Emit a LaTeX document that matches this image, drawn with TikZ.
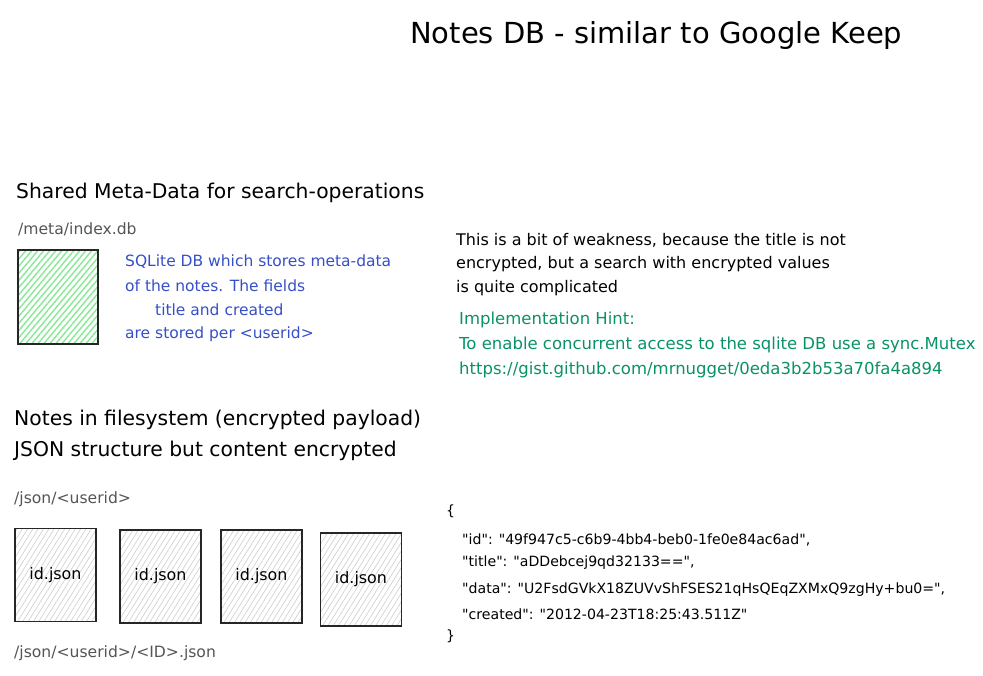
\documentclass[tikz,border=0pt]{standalone}
\usepackage{fontspec}
\setmainfont{DejaVu Sans}[Ligatures=TeXOff]
\usetikzlibrary{patterns.meta}
\definecolor{tblue}{HTML}{364FC7}
\definecolor{tgreen}{HTML}{099268}
\definecolor{hgreen}{HTML}{8CE99A}
\definecolor{tgray}{HTML}{555555}
\definecolor{hgray}{HTML}{CCCCCC}
\tikzset{
  txt/.style={anchor=west, inner sep=0pt, font=\fontsize{16}{18}\selectfont},
  head/.style={anchor=west, inner sep=0pt, font=\fontsize{20.3}{24}\selectfont},
  path/.style={txt, text=tgray, font=\fontsize{15.6}{18}\selectfont},
  jtxt/.style={txt, font=\fontsize{14.1}{16}\selectfont},
  filebox/.style={draw=black!85, line width=1.4pt, pattern={Lines[angle=58,distance=4.5pt,line width=0.6pt]}, pattern color=hgray, minimum width=81pt, minimum height=93pt, inner sep=0pt, font=\fontsize{15.9}{18}\selectfont},
  dbbox/.style={draw=black!85, line width=1.8pt, pattern={Lines[angle=50,distance=4.6pt,line width=1.5pt]}, pattern color=hgreen, minimum width=80pt, minimum height=94pt, inner sep=0pt}
}
\begin{document}
\begin{tikzpicture}[x=1pt,y=-1pt]
\useasboundingbox (0,0) rectangle (983,675);
\node[anchor=west, inner sep=0pt, font=\fontsize{29}{34}\selectfont] (title) at (410,35) {Notes DB - similar to Google Keep};

\node[head] (meta) at (16,193) {Shared Meta-Data for search-operations};
\node[path] (metapath) at (18,229) {/meta/index.db};
\node[dbbox] (db) at (58,297) {};
\node[txt, text=tblue, font=\fontsize{15.5}{18}\selectfont] (b1) at (125,262) {SQLite DB which stores meta-data};
\node[txt, text=tblue, font=\fontsize{15.5}{18}\selectfont] (b2) at (125,286) {of the notes. The fields};
\node[txt, text=tblue, font=\fontsize{15.5}{18}\selectfont] (b3) at (155,310) {title and created};
\node[txt, text=tblue, font=\fontsize{15.5}{18}\selectfont] (b4) at (125,334) {are stored per <userid>};

\node[txt] (w1) at (456,240) {This is a bit of weakness, because the title is not};
\node[txt] (w2) at (456,264) {encrypted, but a search with encrypted values};
\node[txt] (w3) at (456,288) {is quite complicated};

\node[txt, text=tgreen, font=\fontsize{16.5}{18}\selectfont] (h1) at (459,320) {Implementation Hint:};
\node[txt, text=tgreen, font=\fontsize{16.5}{18}\selectfont] (h2) at (459,345) {To enable concurrent access to the sqlite DB use a sync.Mutex};
\node[txt, text=tgreen, font=\fontsize{16.5}{18}\selectfont] (h3) at (459,370) {https://gist.github.com/mrnugget/0eda3b2b53a70fa4a894};

\node[head] (fs1) at (14,420) {Notes in filesystem (encrypted payload)};
\node[head] (fs2) at (14,451) {JSON structure but content encrypted};
\node[path] (jpath) at (14,499) {/json/<userid>};

\node[filebox] (f1) at (55.5,575) {id.json};
\node[filebox] (f2) at (160.5,576.5) {id.json};
\node[filebox] (f3) at (261.5,576.5) {id.json};
\node[filebox] (f4) at (361,579.5) {id.json};

\node[path] (ipath) at (14,653) {/json/<userid>/<ID>.json};

\node[jtxt] (j0) at (446,511) {\{};
\node[jtxt] (j1) at (462,540) {"id": "49f947c5-c6b9-4bb4-beb0-1fe0e84ac6ad",};
\node[jtxt] (j2) at (462,563) {"title": "aDDebcej9qd32133==",};
\node[jtxt] (j3) at (462,590) {"data": "U2FsdGVkX18ZUVvShFSES21qHsQEqZXMxQ9zgHy+bu0=",};
\node[jtxt] (j4) at (462,614) {"created": "2012-04-23T18:25:43.511Z"};
\node[jtxt] (j5) at (446,636) {\}};
\end{tikzpicture}
\end{document}
